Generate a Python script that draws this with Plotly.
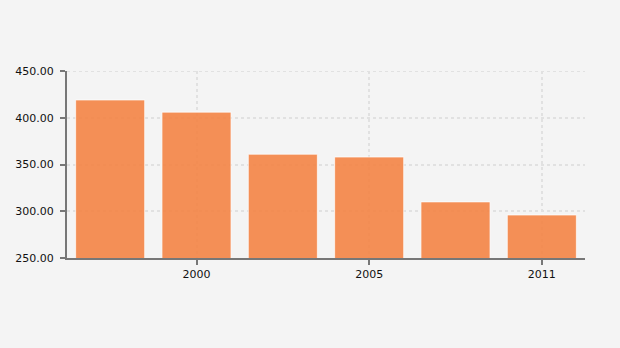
import plotly.graph_objects as go

categories = ["1998", "2000", "2003", "2005", "2008", "2011"]
values = [419.0, 406.0, 361.0, 358.0, 310.0, 296.0]
shown_ticks = ["2000", "2005", "2011"]
y_ticks = [250, 300, 350, 400, 450]

grid_col = "#e1e1e1"

fig = go.Figure()
fig.add_trace(go.Bar(
    x=categories, y=values, width=0.8,
    marker=dict(color="rgba(243,134,72,0.92)", line=dict(color="rgba(255,255,255,0.7)", width=1)),
))
fig.add_shape(type="line", xref="paper", x0=0, x1=1, yref="y", y0=y_ticks[-1], y1=y_ticks[-1],
              line=dict(color=grid_col, width=2, dash="3px,3px"), layer="below")
fig.update_layout(
    width=620, height=348,
    margin=dict(l=67, r=35, t=71, b=90),
    paper_bgcolor="#f4f4f4", plot_bgcolor="#f4f4f4",
    font=dict(family="DejaVu Sans", size=11, color="#111"),
    showlegend=False, bargap=0.2,
)
fig.update_xaxes(
    type="category", tickmode="array", tickvals=shown_ticks, ticktext=shown_ticks,
    range=[-0.5, 5.5],
    showline=True, linecolor="#777", linewidth=2,
    ticks="outside", ticklen=5, tickcolor="#777", tickwidth=2,
    showgrid=True, gridcolor=grid_col, griddash="3px,3px", gridwidth=2,
)
fig.update_yaxes(
    range=[250, 450], tickvals=y_ticks, tickformat=".2f",
    showline=True, linecolor="#777", linewidth=2,
    ticks="outside", ticklen=5, tickcolor="#777", tickwidth=2,
    ticklabelstandoff=4,
    showgrid=True, gridcolor=grid_col, griddash="3px,3px", gridwidth=2,
    zeroline=False,
)
fig.write_html("out.html")
